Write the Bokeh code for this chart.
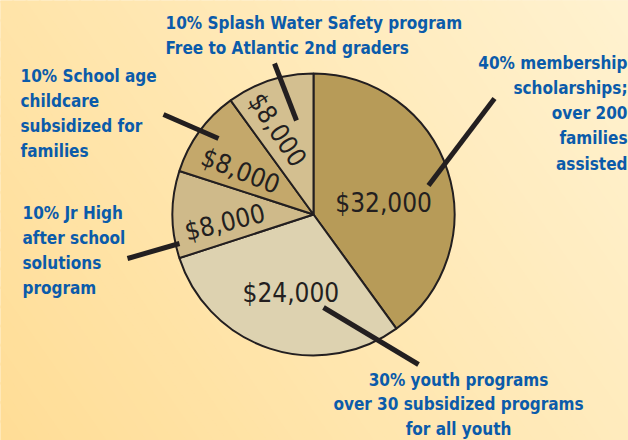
import math
from bokeh.plotting import figure
from bokeh.models import Range1d
from bokeh.core.properties import value
from bokeh.embed import file_html
from bokeh.resources import INLINE

# ---------------- data ----------------
categories = ["membership scholarships", "youth programs", "Jr High after school",
              "School age childcare", "Splash Water Safety"]
amounts = [32000, 24000, 8000, 8000, 8000]
value_labels = ["$32,000", "$24,000", "$8,000", "$8,000", "$8,000"]

note_40 = ["40% membership", "scholarships;", "over 200", "families", "assisted"]
note_30 = ["30% youth programs", "over 30 subsidized programs", "for all youth"]
note_jr = ["10% Jr High", "after school", "solutions", "program"]
note_school = ["10% School age", "childcare", "subsidized  for", "families"]
note_splash = ["10% Splash Water Safety program", "Free to Atlantic 2nd graders"]

# ---------------- style ----------------
W, H = 628, 440
slice_colors = ["#B79B58", "#DDD2B0", "#CFBA8A", "#C4A86B", "#D3BF90"]
blue = "#0B5BAA"
ink = "#231F20"
cx, cy_px, R = 313, 214, 141
cy = H - cy_px
FONT = "DejaVu Sans Condensed"

p = figure(width=W, height=H, output_backend="svg", toolbar_location=None,
           x_range=Range1d(0, W), y_range=Range1d(0, H), min_border=0)
p.axis.visible = False
p.grid.visible = False
p.outline_line_color = None
p.background_fill_color = "#FFE8B4"
p.border_fill_color = "#FFE8B4"

# background diagonal gradient (bottom-left -> top-right)
def hx(c):
    return tuple(int(c[i:i + 2], 16) for i in (1, 3, 5))
c0, c1 = hx("#FFDD96"), hx("#FFF2D0")
N = 70
L = math.hypot(W, H)
th = math.atan2(H, W)
bx, by, bc = [], [], []
for i in range(N):
    t = (i + 0.5) / N
    bx.append(t * W)
    by.append(t * H)
    rgb = tuple(round(c0[k] + (c1[k] - c0[k]) * t) for k in range(3))
    bc.append("#%02X%02X%02X" % rgb)
p.rect(x=bx, y=by, width=L / N + 1.5, height=3000, angle=th,
       fill_color=bc, line_color=None)

# pie wedges, clockwise from top
total = sum(amounts)
starts, ends = [], []
acc = 0
for a in amounts:
    starts.append(math.pi / 2 - 2 * math.pi * acc / total)
    acc += a
    ends.append(math.pi / 2 - 2 * math.pi * acc / total)
p.wedge(x=cx, y=cy, radius=R, start_angle=starts, end_angle=ends,
        direction="clock", fill_color=slice_colors, line_color=ink, line_width=2)

# value labels: (polar angle deg, radius px, text rotation rad)
label_pos = [(9, 71, 0.0), (-106, 82, 0.0), (185, 89, 0.24), (149, 85, -0.38), (113, 92, -0.98)]
lx = [cx + r * math.cos(math.radians(a)) for a, r, _ in label_pos]
ly = [cy + r * math.sin(math.radians(a)) for a, r, _ in label_pos]
p.text(x=lx, y=ly, text=value_labels, angle=[t for _, _, t in label_pos],
       text_font=value(FONT), text_font_size="26px",
       text_color=ink, text_align="center", text_baseline="middle")

# leader lines (pixel coordinates: outer end, inner end)
leaders = [((494, 98), (428, 185)), ((418, 364), (323, 307)), ((127, 258), (179, 243)),
           ((163, 114), (218, 138)), ((274, 63), (296, 120))]
p.multi_line(xs=[[a[0], b[0]] for a, b in leaders],
             ys=[[H - a[1], H - b[1]] for a, b in leaders],
             line_color=ink, line_width=5)

# annotations
def block(lines, x, y_top_px, align, step=25.3):
    ys = [H - (y_top_px + i * step) for i in range(len(lines))]
    p.text(x=[x] * len(lines), y=ys, text=lines,
           text_font=value(FONT), text_font_style="bold",
           text_font_size="17px", text_color=blue, text_align=align,
           text_baseline="middle")

block(note_splash, 165, 22, "left")
block(note_school, 20, 75, "left")
block(note_jr, 22, 212, "left")
block(note_40, 627, 62, "right")
block(note_30, 458, 379, "center", step=24.8)

open("out.html", "w").write(file_html(p, INLINE))
